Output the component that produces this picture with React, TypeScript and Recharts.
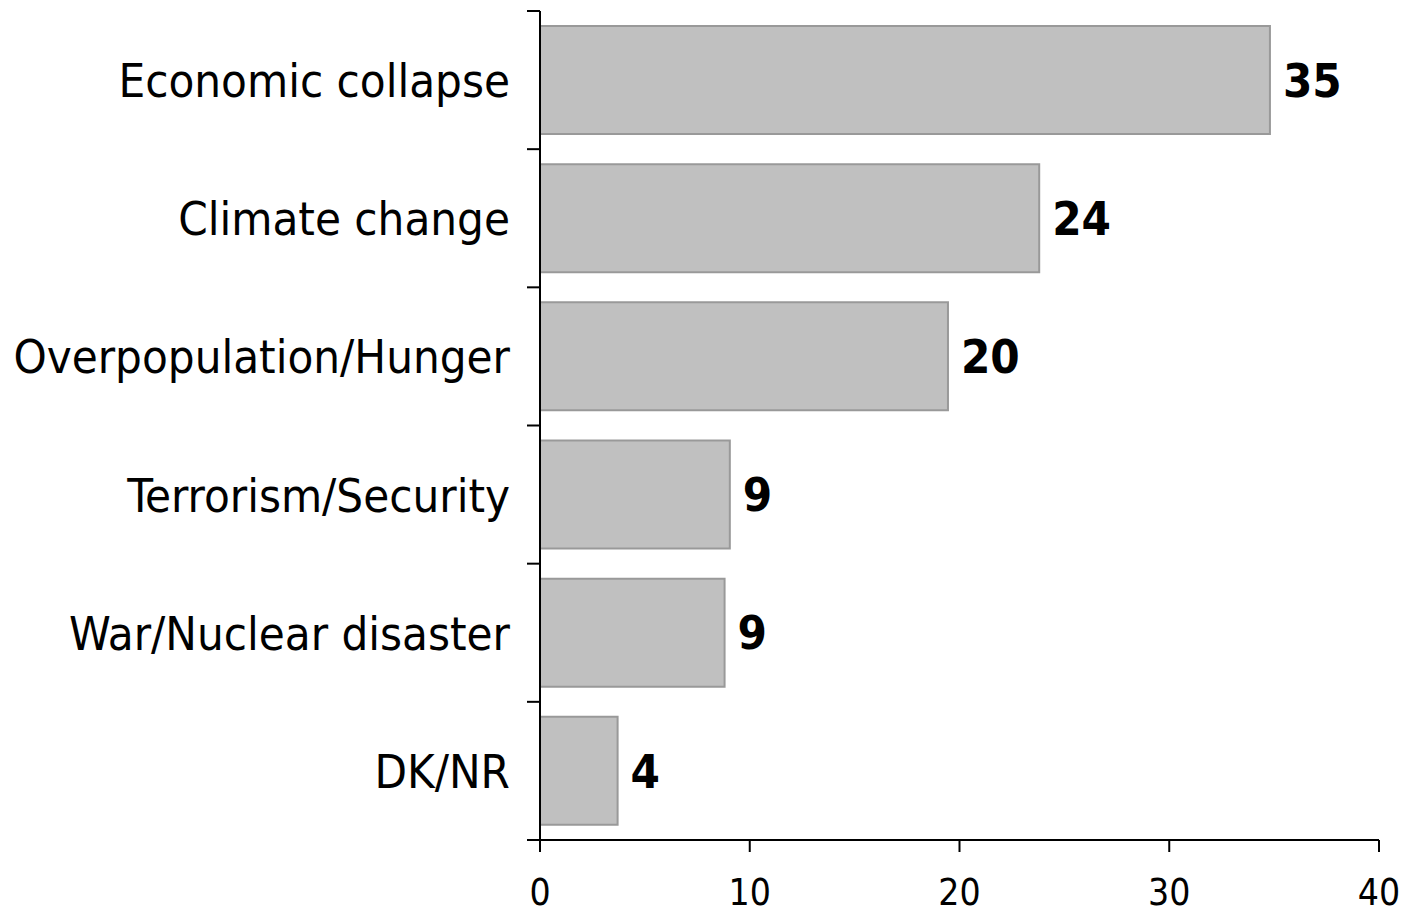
import React from "react";
import { BarChart, Bar, XAxis, YAxis, LabelList } from "recharts";

// categories top to bottom
const CATEGORIES = [
  "Economic collapse",
  "Climate change",
  "Overpopulation/Hunger",
  "Terrorism/Security",
  "War/Nuclear disaster",
  "DK/NR",
];
// bar lengths
const VALUES = [34.8, 23.8, 19.45, 9.05, 8.8, 3.7];
// printed value labels
const LABELS = [35, 24, 20, 9, 9, 4];
const X_TICKS = [0, 10, 20, 30, 40];

const W = 1405;
const H = 916;
const MARGIN = { top: 11, right: 26, bottom: 0, left: 0 };
const Y_AXIS_W = 540;
const X_AXIS_H = 76;
const BAND = (H - MARGIN.top - MARGIN.bottom - X_AXIS_H) / CATEGORIES.length;

const FONT = "'DejaVu Sans Condensed', 'DejaVu Sans', sans-serif";

const data = CATEGORIES.map((name, i) => ({
  name,
  value: VALUES[i],
  label: LABELS[i],
}));

// category label plus tick marks on the band boundaries
const CategoryTick = (props: any) => {
  const { y, payload, index } = props;
  const ax = Y_AXIS_W;
  const top = y - BAND / 2;
  const bottom = y + BAND / 2;
  return (
    <g>
      <line x1={ax - 13} x2={ax} y1={top} y2={top} stroke="#000" strokeWidth={2} />
      {index === CATEGORIES.length - 1 && (
        <line x1={ax - 13} x2={ax} y1={bottom} y2={bottom} stroke="#000" strokeWidth={2} />
      )}
      <text
        x={ax - 30}
        y={y}
        dy="0.36em"
        textAnchor="end"
        fill="#000"
        fontSize={47}
        fontFamily={FONT}
      >
        {payload.value}
      </text>
    </g>
  );
};

const App: React.FC = () => {
  return (
    <div style={{ position: "absolute", left: 0, top: 0, width: W, height: H, background: "#fff" }}>
      <BarChart
        width={W}
        height={H}
        data={data}
        layout="vertical"
        margin={MARGIN}
        barCategoryGap={15}
      >
        <XAxis
          type="number"
          domain={[0, 40]}
          ticks={X_TICKS}
          height={X_AXIS_H}
          stroke="#000"
          strokeWidth={2}
          tickSize={12}
          tickMargin={27}
          tick={{ fill: "#000", fontSize: 37, fontFamily: FONT }}
          interval={0}
        />
        <YAxis
          type="category"
          dataKey="name"
          width={Y_AXIS_W}
          stroke="#000"
          strokeWidth={2}
          tickLine={false}
          tick={<CategoryTick />}
          interval={0}
        />
        <Bar
          dataKey="value"
          fill="#c0c0c0"
          stroke="#999999"
          strokeWidth={2}
          isAnimationActive={false}
        >
          <LabelList
            dataKey="label"
            position="right"
            offset={13}
            fill="#000"
            fontSize={47}
            fontWeight="bold"
            fontFamily={FONT}
          />
        </Bar>
      </BarChart>
    </div>
  );
};

export default App;
